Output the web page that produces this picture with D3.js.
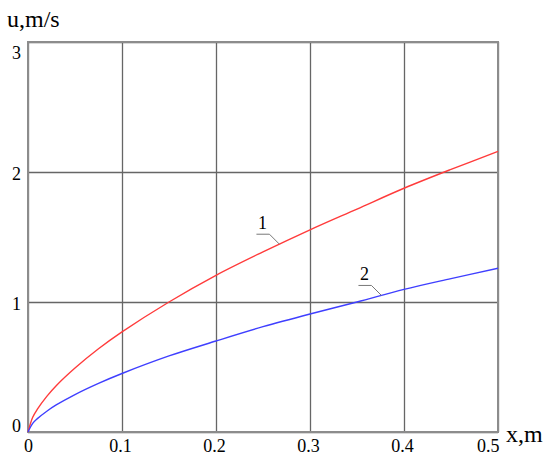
<!DOCTYPE html>
<html>
<head>
<meta charset="utf-8">
<script src="https://cdn.jsdelivr.net/npm/d3@7"></script>
<style>
  body { margin: 0; background: #fff; }
  svg text { font-family: "Liberation Serif", "Times New Roman", serif; }
</style>
</head>
<body>
<div class="chart"></div>
<script>
// values
const xValues = [0, 0.005, 0.01, 0.02, 0.03, 0.05, 0.075, 0.1, 0.15, 0.2, 0.25, 0.3, 0.35, 0.4, 0.45, 0.5];
const curve1 = [0, 0.113, 0.176, 0.274, 0.356, 0.492, 0.64, 0.77, 1.0, 1.205, 1.385, 1.555, 1.715, 1.875, 2.02, 2.158];
const curve2 = [0, 0.066, 0.103, 0.16, 0.208, 0.288, 0.374, 0.45, 0.585, 0.70, 0.81, 0.908, 1.0, 1.097, 1.18, 1.26];
const xTicks = [0, 0.1, 0.2, 0.3, 0.4, 0.5];
const yTicks = [0, 1, 2, 3];
const xTickLabels = ["0", "0.1", "0.2", "0.3", "0.4", "0.5"];
const yTickLabels = ["0", "1", "2", "3"];
const seriesLabels = ["1", "2"];
const labelAt = [0.2675, 0.376]; // x where each leader touches its curve

const margin = { top: 42, left: 28, right: 52, bottom: 27 };
const totalWidth = 550;
const totalHeight = 459;
const width = totalWidth - margin.left - margin.right,
  height = totalHeight - margin.top - margin.bottom;

const svg = d3
  .select(".chart")
  .append("svg")
  .attr("width", totalWidth)
  .attr("height", totalHeight)
  .attr("font-family", "'Liberation Serif', serif");

const g = svg
  .append("g")
  .attr("transform", `translate(${margin.left}, ${margin.top})`);

const xScale = d3.scaleLinear().domain([0, 0.5]).range([0, width]);
const yScale = d3.scaleLinear().domain([0, 3]).range([height, 0]);

// grid via axes
const xAxis = d3
  .axisBottom(xScale)
  .tickValues(xTicks)
  .tickSize(-height)
  .tickFormat((d, i) => xTickLabels[i]);
const yAxis = d3
  .axisLeft(yScale)
  .tickValues(yTicks)
  .tickSize(-width)
  .tickFormat((d, i) => yTickLabels[i]);

const xAxisGroup = g
  .append("g")
  .attr("transform", `translate(0, ${height})`)
  .call(xAxis)
  .attr("font-family", null);
const yAxisGroup = g.append("g").call(yAxis).attr("font-family", null);

xAxisGroup.selectAll(".domain").remove();
yAxisGroup.selectAll(".domain").remove();

g.selectAll(".tick line")
  .attr("stroke", "#666")
  .attr("stroke-width", 1.3);

xAxisGroup
  .selectAll(".tick text")
  .attr("font-size", 18)
  .attr("fill", "#000")
  .attr("dy", 0)
  .attr("y", 20)
  .attr("text-anchor", (d, i) => (i === xTicks.length - 1 ? "end" : "middle"))
  .attr("x", (d, i) => (i === xTicks.length - 1 ? 1 : i === 0 ? 0 : -2));

yAxisGroup
  .selectAll(".tick text")
  .attr("font-size", 18)
  .attr("fill", "#000")
  .attr("x", -7)
  .attr("dy", (d) => (d === 3 ? "0.9em" : d === 0 ? "-0.05em" : "0.4em"));

// frame
g.append("rect")
  .attr("x", 0)
  .attr("y", 0)
  .attr("width", width)
  .attr("height", height)
  .attr("fill", "none")
  .attr("stroke", "#8c8c8c")
  .attr("stroke-width", 2);

const line = d3
  .line()
  .curve(d3.curveCatmullRom)
  .x((d) => xScale(d[0]))
  .y((d) => yScale(d[1]));

const series = [
  { values: curve1, color: "#ff3b3b" },
  { values: curve2, color: "#3f3fff" },
];

g.selectAll(".curve")
  .data(series)
  .enter()
  .append("path")
  .attr("class", "curve")
  .attr("fill", "none")
  .attr("stroke", (d) => d.color)
  .attr("stroke-width", 1.4)
  .attr("d", (d) => line(xValues.map((x, i) => [x, d.values[i]])));

// leader labels
series.forEach((s, k) => {
  const interp = d3.scaleLinear().domain(xValues).range(s.values);
  const px = xScale(labelAt[k]);
  const py = yScale(interp(labelAt[k]));
  const ex = px - 10,
    ey = py - 10;
  g.append("path")
    .attr("d", `M${px},${py}L${ex},${ey}L${ex - 13},${ey}`)
    .attr("fill", "none")
    .attr("stroke", "#777")
    .attr("stroke-width", 1);
  g.append("text")
    .attr("x", ex - 7)
    .attr("y", ey - 5)
    .attr("text-anchor", "middle")
    .attr("font-size", 18)
    .text(seriesLabels[k]);
});

svg
  .append("text")
  .attr("x", 7)
  .attr("y", 27)
  .attr("font-size", 24)
  .text("u,m/s");

svg
  .append("text")
  .attr("x", 506)
  .attr("y", 442)
  .attr("font-size", 24)
  .text("x,m");
</script>
</body>
</html>
